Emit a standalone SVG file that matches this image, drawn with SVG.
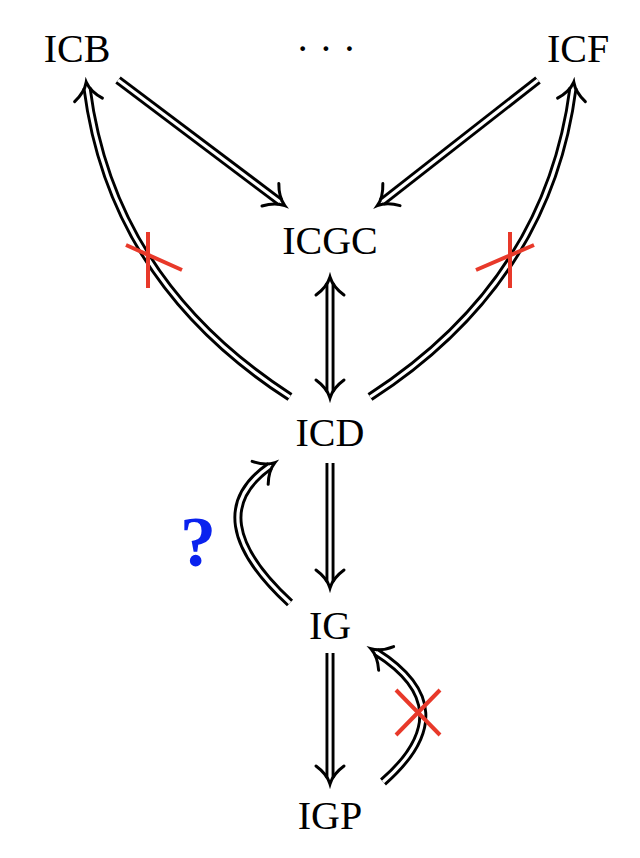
<svg xmlns="http://www.w3.org/2000/svg" width="640" height="858" viewBox="0 0 640 858">
<style>
.t{font-family:"Liberation Serif","DejaVu Serif",serif;font-size:40px;text-anchor:middle;fill:#000}
.o{fill:none;stroke:#000;stroke-width:9}
.i{fill:none;stroke:#fff;stroke-width:3.2}
.x{stroke:#e8392a;stroke-width:4;fill:none}
</style>
<defs>
<marker id="h" markerUnits="userSpaceOnUse" orient="auto-start-reverse" markerWidth="40" markerHeight="40" viewBox="-20 -20 40 40" refX="0" refY="0" overflow="visible">
<path d="M-12,-14 Q-4,-3 6,0 Q-4,3 -12,14" fill="none" stroke="#000" stroke-width="3" stroke-linecap="round"/>
</marker>
</defs>
<rect width="640" height="858" fill="#fff"/>
<g id="connectors">
<path class="o" d="M118,80 L280,202"/><path class="i" d="M118,80 L280,202" marker-end="url(#h)"/>
<path class="o" d="M538,80 L382,202"/><path class="i" d="M538,80 L382,202" marker-end="url(#h)"/>
<path class="o" d="M330,283 L330,392"/><path class="i" d="M330,283 L330,392" marker-start="url(#h)" marker-end="url(#h)"/>
<path class="o" d="M290,397 Q112,282 87,88"/><path class="i" d="M290,397 Q112,282 87,88" marker-end="url(#h)"/>
<path class="o" d="M370,397 Q548,282 573,88"/><path class="i" d="M370,397 Q548,282 573,88" marker-end="url(#h)"/>
<path class="o" d="M330,463 L330,582"/><path class="i" d="M330,463 L330,582" marker-end="url(#h)"/>
<path class="o" d="M290,603 Q197,517 270,466"/><path class="i" d="M290,603 Q197,517 270,466" marker-end="url(#h)"/>
<path class="o" d="M330,653 L330,778"/><path class="i" d="M330,653 L330,778" marker-end="url(#h)"/>
<path class="o" d="M383,782 Q466,709 376,652"/><path class="i" d="M383,782 Q466,709 376,652" marker-end="url(#h)"/>
<path class="x" d="M126,245 L182,270 M148,232 L148,288"/>
<path class="x" d="M534,245 L476,270 M510,232 L510,288"/>
<path class="x" d="M396,690 L440,735 M396,735 L440,690"/>
</g>
<g id="ICB"><text class="t" x="77" y="62">ICB</text></g>
<g id="dots"><text class="t" x="326" y="62">· · ·</text></g>
<g id="ICF"><text class="t" x="578" y="62">ICF</text></g>
<g id="ICGC"><text class="t" x="330" y="254">ICGC</text></g>
<g id="ICD"><text class="t" x="330" y="446">ICD</text></g>
<g id="IG"><text class="t" x="330" y="639">IG</text></g>
<g id="IGP"><text class="t" x="330" y="829">IGP</text></g>
<g id="q"><text x="198" y="566" style="font-family:'Liberation Serif',serif;font-size:72px;font-weight:bold;fill:#0a22ee;text-anchor:middle">?</text></g>
</svg>
